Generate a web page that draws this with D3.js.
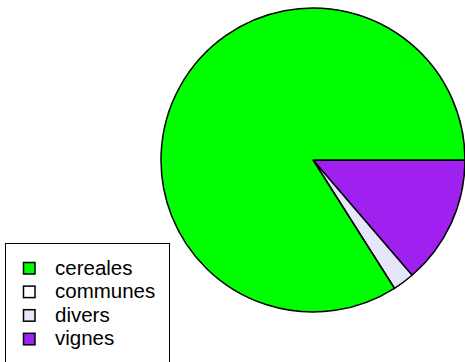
<!DOCTYPE html>
<html><head><meta charset="utf-8">
<script src="https://cdn.jsdelivr.net/npm/d3@7"></script>
<style>html,body{margin:0;padding:0;background:#fff;}svg{display:block;}</style>
</head><body>
<svg id="chart" width="465" height="362"></svg>
<script>
const categories = ["cereales", "communes", "divers", "vignes"];
const values = [84.0, 0.0, 2.3, 13.7];
const colors = ["#00ff00", "#ffffff", "#e6e6fa", "#a020f0"];

const svg = d3.select("#chart");
const cx = 313, cy = 160, r = 152;

const data = categories.map((c, i) => ({cat: c, value: values[i], color: colors[i]}));
// drawn counter-clockwise from 3 o'clock, so reverse order clockwise
const pie = d3.pie().sort(null).value(d => d.value)
  .startAngle(Math.PI / 2).endAngle(Math.PI / 2 + 2 * Math.PI);
const arcs = pie(data.slice().reverse());
const arc = d3.arc().innerRadius(0).outerRadius(r);

const g = svg.append("g").attr("transform", `translate(${cx},${cy})`);
g.selectAll("path").data(arcs).join("path")
  .attr("d", arc)
  .attr("fill", d => d.data.color)
  .attr("stroke", "#000")
  .attr("stroke-width", 1.5)
  .attr("stroke-linejoin", "round");

// legend
const lg = svg.append("g");
lg.append("rect").attr("x", 5.5).attr("y", 243.5).attr("width", 164).attr("height", 130)
  .attr("fill", "#fff").attr("stroke", "#000").attr("stroke-width", 1);
const y0 = 268, dy = 23.6;
const items = lg.selectAll("g.item").data(data).join("g").attr("class", "item")
  .attr("transform", (d, i) => `translate(0,${y0 + i * dy})`);
items.append("rect").attr("x", 23.5).attr("y", -5.5).attr("width", 11.5).attr("height", 11.5)
  .attr("fill", d => d.color).attr("stroke", "#000").attr("stroke-width", 1.5);
items.append("text").attr("x", 55).attr("y", 6.5)
  .attr("font-family", "Liberation Sans, Arial, sans-serif").attr("font-size", 20.5)
  .attr("fill", "#000").text(d => d.cat);
</script>
</body></html>
